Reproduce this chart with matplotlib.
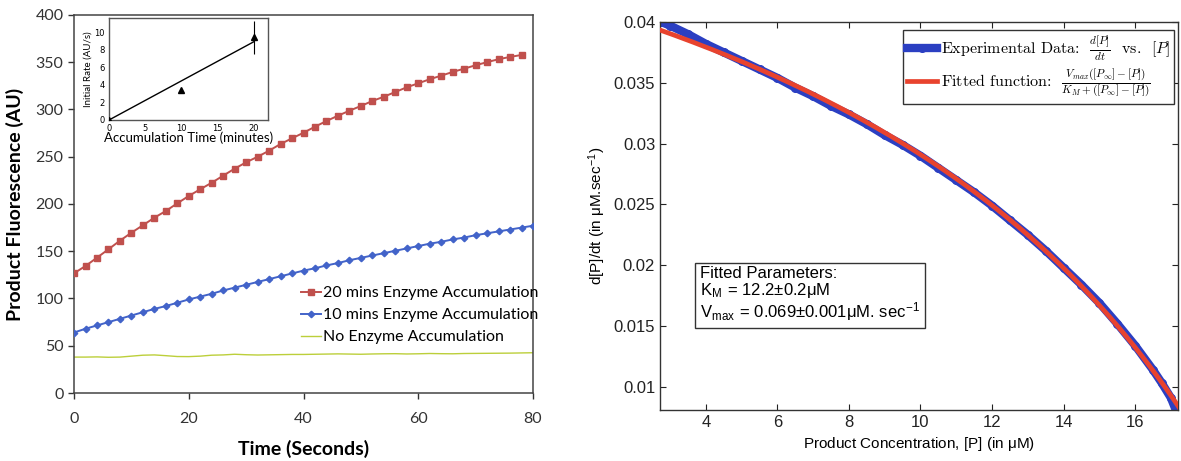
import numpy as np
import matplotlib
matplotlib.use("Agg")
import matplotlib.pyplot as plt

# ---- left panel: fluorescence time courses ----
t_red = np.arange(0, 80, 2)
red_20min = [126.7, 134.4, 143.2, 152.1, 161.2, 169.6, 177.5, 185.5, 192.6, 200.7,
             208.5, 215.6, 222.5, 230.0, 237.4, 244.1, 250.0, 256.4, 263.5, 269.5,
             275.4, 281.8, 287.8, 293.4, 298.7, 303.7, 309.0, 313.5, 318.5, 323.5,
             327.7, 332.0, 335.8, 339.7, 343.2, 346.8, 350.1, 353.2, 355.6, 357.7]
t_blue = np.arange(0, 82, 2)
blue_10min = [64, 68, 71.5, 75, 78.5, 82, 85.5, 89, 92, 95.5, 99, 102, 105, 108.5,
              111.5, 114.5, 117.5, 120.5, 123.5, 126.5, 129.5, 132, 135, 137.5,
              140.5, 143, 145.5, 148, 150.5, 153, 155.5, 158, 160, 162.5, 164.5,
              167, 169, 171, 173, 175, 177]
t_none = np.arange(0, 82, 2)
no_enzyme = [38, 38, 38.2, 37.8, 38, 39, 40, 40.3, 39.5, 38.6, 38.5, 39, 40, 40.3,
             41, 40.5, 40.2, 40.4, 40.6, 40.8, 40.8, 41, 41.2, 41.4, 41.2, 41, 41.3,
             41.5, 41.6, 41.3, 41.5, 41.8, 41.6, 41.5, 41.8, 41.9, 42, 42.1, 42.2,
             42.4, 42.6]

# inset: initial rate vs accumulation time
acc_time = [0, 10, 20]
init_rate = [0.0, 3.4, 9.4]
rate_err = [0.0, 0.0, 1.9]

# ---- right panel: rate vs product concentration ----
conc = [2.75, 3.0, 3.5, 4.0, 4.5, 5.0, 5.5, 6.0, 6.5, 7.0, 7.5, 8.0, 8.5, 9.0,
        9.5, 10.0, 10.5, 11.0, 11.5, 12.0, 12.5, 13.0, 13.5, 14.0, 14.5, 15.0,
        15.5, 16.0, 16.5, 16.75, 17.0, 17.15]
rate = [0.0400, 0.0397, 0.0390, 0.0382, 0.0375, 0.0368, 0.0361, 0.0354, 0.0346,
        0.0339, 0.0331, 0.0324, 0.0316, 0.0307, 0.0299, 0.0290, 0.0280, 0.0270,
        0.0260, 0.0249, 0.0237, 0.0225, 0.0212, 0.0198, 0.0184, 0.0169, 0.0152,
        0.0134, 0.0114, 0.0103, 0.0091, 0.0080]
K_M = 12.2
V_max = 0.069
P_inf = 18.9

fig = plt.figure(figsize=(11.81, 4.61), dpi=100)

# left axes
ax = fig.add_axes([0.0627, 0.1475, 0.3886, 0.82])
ax.plot(t_none, no_enzyme, color='#bccf3a', lw=1.0, label='No Enzyme Accumulation', zorder=2)
ax.plot(t_blue, blue_10min, color='#4263c9', lw=1.4, marker='D', ms=3.3,
        label='10 mins Enzyme Accumulation', zorder=3)
ax.plot(t_red, red_20min, color='#c0504d', lw=1.4, marker='s', ms=4.2,
        label='20 mins Enzyme Accumulation', zorder=4)
ax.set_xlim(0, 80)
ax.set_ylim(0, 400)
ax.set_xticks([0, 20, 40, 60, 80])
ax.set_yticks(range(0, 401, 50))
ax.tick_params(direction='out', length=4, width=1, labelsize=11.5, colors='#333333')
ax.tick_params(axis='x', pad=10)
for lab in ax.get_xticklabels() + ax.get_yticklabels():
    lab.set_family('Lato')
for s in ax.spines.values():
    s.set_color('#444444')
    s.set_linewidth(1.1)
ax.set_xlabel('Time (Seconds)', family='Lato', fontweight='bold', fontsize=14, labelpad=10)
ax.set_ylabel('Product Fluorescence (AU)', family='Lato', fontweight='bold', fontsize=14, labelpad=8)
h, l = ax.get_legend_handles_labels()
ax.legend(h[::-1], l[::-1], loc='upper left', bbox_to_anchor=(0.48, 0.30), frameon=False,
          prop={'family': 'Lato', 'size': 11.5}, handlelength=1.3, handletextpad=0.1,
          labelspacing=0.5, borderaxespad=0)

# inset axes
ins = fig.add_axes([0.0923, 0.7397, 0.1346, 0.2213])
ins.errorbar(acc_time, init_rate, yerr=rate_err, fmt='^', color='black', ms=5,
             elinewidth=0.8, capsize=0, zorder=3)
slope = np.dot(acc_time, init_rate) / np.dot(acc_time, acc_time)
xx = np.array([0, 20])
ins.plot(xx, slope * xx, color='black', lw=1)
ins.set_xlim(0, 22)
ins.set_ylim(0, 11.6)
ins.set_xticks([0, 5, 10, 15, 20])
ins.set_yticks([0, 2, 4, 6, 8, 10])
ins.tick_params(length=0, labelsize=6, pad=3)
for s in ins.spines.values():
    s.set_color('#555555')
    s.set_linewidth(1.0)
ins.set_xlabel('Accumulation Time (minutes)', family='Lato', fontsize=9.5, labelpad=-1)
ins.set_ylabel('Initial Rate (AU/s)', family='Lato', fontsize=7, labelpad=1)

# right axes
plt.rcParams['mathtext.fontset'] = 'cm'
ax2 = fig.add_axes([0.5589, 0.1106, 0.4386, 0.8417])
ax2.plot(conc, rate, color='#2b3fc2', lw=6, marker='o', ms=5.5, zorder=2,
         label=r'Experimental Data:  $\frac{d[P]}{dt}$  vs.  $[P]$')
pp = np.linspace(2.6, 17.4, 200)
ax2.plot(pp, V_max * (P_inf - pp) / (K_M + (P_inf - pp)), color='#e8432e', lw=3.4, zorder=3,
         label=r'Fitted function:  $\frac{V_{max}([P_{\infty}]-[P])}{K_M+([P_{\infty}]-[P])}$')
ax2.set_xlim(2.72, 17.2)
ax2.set_ylim(0.0081, 0.04)
ax2.set_xticks([4, 6, 8, 10, 12, 14, 16])
ax2.set_yticks([0.01, 0.015, 0.02, 0.025, 0.03, 0.035, 0.04])
ax2.set_yticklabels(['0.01', '0.015', '0.02', '0.025', '0.03', '0.035', '0.04'])
ax2.tick_params(direction='in', length=4, top=True, right=True, labelsize=12,
                colors='#222222')
for lab in ax2.get_xticklabels() + ax2.get_yticklabels():
    lab.set_family('Liberation Sans')
for s in ax2.spines.values():
    s.set_color('#333333')
    s.set_linewidth(1.0)
ax2.set_xlabel(r'Product Concentration, [P] (in $\mathregular{\mu}$M)', family='Liberation Sans',
               fontsize=11)
ax2.set_ylabel(r'd[P]/dt (in $\mathregular{\mu}$M.sec$^{\mathregular{-1}}$)', family='Liberation Sans',
               fontsize=11)
ax2.legend(loc='upper right', bbox_to_anchor=(0.998, 0.987), borderaxespad=0.2,
           fancybox=False, edgecolor='#333333',
           prop={'family': 'cmr10', 'size': 11.5}, handlelength=1.9, handletextpad=0.2,
           borderpad=0.25, labelspacing=0.25, framealpha=1)
ax2.text(0.077, 0.372,
         'Fitted Parameters:\n'
         r'K$_{\mathregular{M}}$ = 12.2$\mathregular{\pm}$0.2$\mathregular{\mu}$M' '\n'
         r'V$_{\mathregular{max}}$ = 0.069$\mathregular{\pm}$0.001$\mathregular{\mu}$M. sec$^{\mathregular{-1}}$',
         transform=ax2.transAxes, family='Liberation Sans', fontsize=12, va='top', ha='left',
         linespacing=1.0,
         bbox=dict(boxstyle='square,pad=0.3', fc='white', ec='#333333', lw=1))

fig.savefig('out.png', dpi=100)
